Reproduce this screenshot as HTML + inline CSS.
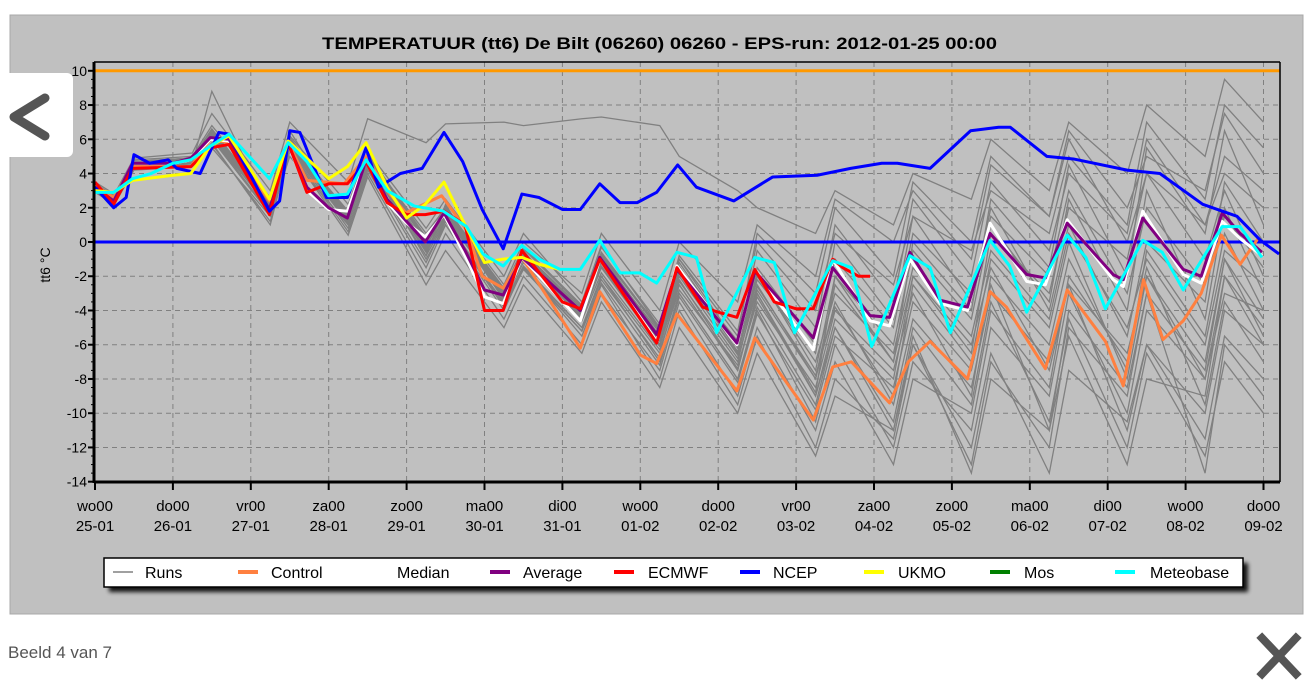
<!DOCTYPE html>
<html><head><meta charset="utf-8"><style>
body{margin:0;background:#fff;width:1316px;height:698px;overflow:hidden;font-family:"Liberation Sans",sans-serif}
svg{display:block}
</style></head><body>
<svg id="chart" width="1316" height="698" viewBox="0 0 1316 698" xmlns="http://www.w3.org/2000/svg">
<defs><filter id="sh" x="-5%" y="-50%" width="110%" height="200%"><feGaussianBlur stdDeviation="2"/></filter></defs>
<rect x="10" y="15" width="1293" height="599" fill="#c0c0c0" stroke="#a8a8a8"/>
<text x="322" y="49" textLength="675" lengthAdjust="spacingAndGlyphs" font-size="17" font-weight="bold" fill="#000">TEMPERATUUR (tt6) De Bilt (06260) 06260 - EPS-run: 2012-01-25 00:00</text>
<g id="grid"></g>
<g id="runs"></g>
<g id="series"></g>
<g id="axes"></g>
<text x="50" y="265" transform="rotate(-90 50 265)" text-anchor="middle" font-size="14" fill="#000">tt6 °C</text>
<g>
<rect x="109" y="563" width="1139" height="29" fill="#000" filter="url(#sh)" opacity="0.9"/>
<rect x="104" y="558" width="1139" height="29" fill="#fff" stroke="#000" stroke-width="1.5"/>
<g font-size="16" fill="#000">
<line x1="113" y1="572" x2="133" y2="572" stroke="#a0a0a0" stroke-width="2"/><text x="145" y="578">Runs</text>
<line x1="238" y1="572" x2="258" y2="572" stroke="#ff8040" stroke-width="4"/><text x="271" y="578">Control</text>
<line x1="364" y1="572" x2="384" y2="572" stroke="#fff" stroke-width="4"/><text x="397" y="578">Median</text>
<line x1="490" y1="572" x2="510" y2="572" stroke="#800080" stroke-width="4"/><text x="523" y="578">Average</text>
<line x1="614" y1="572" x2="634" y2="572" stroke="#ff0000" stroke-width="4"/><text x="648" y="578">ECMWF</text>
<line x1="740" y1="572" x2="760" y2="572" stroke="#0000ff" stroke-width="4"/><text x="773" y="578">NCEP</text>
<line x1="864" y1="572" x2="884" y2="572" stroke="#ffff00" stroke-width="4"/><text x="898" y="578">UKMO</text>
<line x1="990" y1="572" x2="1010" y2="572" stroke="#008000" stroke-width="4"/><text x="1024" y="578">Mos</text>
<line x1="1115" y1="572" x2="1135" y2="572" stroke="#00ffff" stroke-width="4"/><text x="1150" y="578">Meteobase</text>
</g></g>
<g>
<rect x="0" y="73" width="73" height="84" rx="6" fill="#fff"/>
<polyline points="45,98 14,117 45,136" fill="none" stroke="#555" stroke-width="9" stroke-linecap="round" stroke-linejoin="round"/>
</g>
<text x="8" y="658" font-size="17" fill="#555">Beeld 4 van 7</text>
<g stroke="#555" stroke-width="8" stroke-linecap="square">
<line x1="1262" y1="638" x2="1296" y2="674"/><line x1="1296" y1="638" x2="1262" y2="674"/>
</g>
</svg>
<script>
const dayLabels=["wo00","do00","vr00","za00","zo00","ma00","di00","wo00","do00","vr00","za00","zo00","ma00","di00","wo00","do00"];
const dateLabels=["25-01","26-01","27-01","28-01","29-01","30-01","31-01","01-02","02-02","03-02","04-02","05-02","06-02","07-02","08-02","09-02"];
const yTicks=[10,8,6,4,2,0,-2,-4,-6,-8,-10,-12,-14];
const runDays=[0,0.25,0.5,1.25,1.5,2.25,2.5,3.25,3.5,4.25,4.5,5.25,5.5,6.25,6.5,7.25,7.5,8.25,8.5,9.25,9.5,10.25,10.5,11.25,11.5,12.25,12.5,13.25,13.5,14.25,14.5,15];
const runs=[
[3.5,2.8,4.9,5.2,7.5,3.0,7.0,3.5,7.2,5.8,6.9,7.0,6.8,7.2,7.3,6.8,5.0,3.0,2.0,0.5,3.0,1.0,4.0,2.5,6.0,3.0,7.0,4.0,8.0,5.0,9.5,7.0],
[3.0,2.4,4.5,4.6,8.8,1.8,6.5,1.0,5.0,-1.0,1.0,-3.5,-1.5,-5.0,-2.0,-7.0,-3.0,-8.0,-4.0,-10.5,-6.0,-12.0,-7.0,-11.0,-5.0,-9.0,-3.0,-10.0,-4.0,-8.0,-2.0,-5.0],
[3.3,2.6,4.7,4.9,6.5,2.2,5.9,1.2,4.5,-0.5,1.5,-3.0,-0.5,-4.5,-1.0,-6.0,-2.5,-7.5,-3.0,-9.0,-4.5,-8.0,-2.0,-6.5,0.5,-3.0,2.0,-1.0,4.0,1.0,5.0,3.0],
[3.0,2.2,4.3,4.5,5.8,1.0,5.5,0.8,4.2,-1.5,1.0,-4.0,-1.5,-5.5,-2.5,-8.0,-4.0,-9.5,-5.5,-12.0,-8.0,-11.5,-6.0,-13.0,-7.0,-12.0,-5.0,-9.0,-3.0,-13.5,-6.0,-9.0],
[3.2,2.5,4.6,4.8,6.2,2.4,5.8,1.8,5.0,0.5,2.0,-2.5,0.0,-3.0,0.5,-4.0,0.0,-3.5,1.0,-2.0,2.5,0.0,3.0,-1.0,4.5,1.5,6.5,2.0,5.0,3.0,7.5,4.0],
[3.1,2.3,4.4,4.5,5.5,1.5,5.0,1.0,4.6,-0.8,2.2,-3.3,-1.0,-4.2,-0.8,-5.5,-1.8,-6.5,-2.0,-7.0,-3.0,-6.5,-1.5,-5.5,-0.5,-4.5,0.5,-5.0,-1.0,-6.0,-0.5,-2.5],
[3.4,2.7,4.8,5.0,6.8,2.6,6.2,2.2,5.3,0.8,2.5,-2.0,0.5,-3.5,-0.2,-5.0,-1.0,-6.0,-0.5,-5.0,1.0,-3.5,2.5,-2.0,3.5,-0.5,4.0,0.5,6.0,1.0,4.0,2.0],
[3.0,2.4,4.4,4.6,6.0,1.6,5.4,0.6,4.0,-2.0,0.5,-4.5,-2.0,-6.0,-3.0,-7.5,-3.5,-9.0,-5.0,-11.0,-7.0,-13.0,-8.0,-10.0,-4.0,-8.5,-2.0,-7.0,-1.5,-9.5,-3.5,-7.0],
[3.2,2.5,4.5,4.7,6.4,2.0,5.6,1.4,4.7,-0.3,1.8,-3.2,-0.8,-4.3,-1.2,-5.8,-2.0,-6.8,-2.8,-8.0,-3.5,-9.5,-4.5,-8.5,-3.0,-7.0,-2.5,-11.0,-6.0,-10.0,-4.0,-6.0],
[3.3,2.6,4.7,4.9,6.6,2.3,6.0,1.7,5.1,0.3,2.1,-2.8,-0.4,-3.8,-0.3,-4.8,-0.8,-5.2,0.0,-4.0,0.5,-2.5,1.5,-0.5,3.0,0.5,5.0,1.0,7.0,2.5,8.0,5.5],
[2.9,2.2,4.2,4.4,5.7,1.2,5.3,0.4,3.8,-2.5,-0.5,-5.0,-2.5,-6.5,-3.5,-8.5,-5.0,-10.0,-6.5,-12.5,-9.0,-11.0,-6.0,-12.0,-6.5,-13.5,-7.5,-10.5,-6.0,-11.5,-5.5,-8.0],
[3.2,2.5,4.6,4.8,6.1,2.1,5.7,1.5,4.8,0.1,1.6,-3.0,-0.7,-4.0,-1.0,-5.3,-1.5,-5.8,-1.5,-6.0,-1.0,-5.0,0.5,-3.0,1.5,-2.0,3.0,-3.0,2.0,-2.5,1.5,-1.5],
[3.1,2.4,4.5,4.7,6.3,1.9,5.6,1.3,4.9,-0.2,1.7,-3.4,-1.2,-4.6,-1.8,-6.3,-2.8,-7.2,-3.5,-8.5,-4.0,-7.5,-3.0,-9.0,-2.0,-6.0,-1.0,-7.5,-0.5,-5.5,0.5,-4.0],
[3.3,2.6,4.6,4.9,6.4,2.2,5.9,1.6,5.0,0.2,1.9,-2.7,-0.3,-3.7,-0.6,-5.1,-1.2,-6.2,-1.8,-7.5,-2.0,-6.0,-0.5,-4.5,1.0,-3.5,2.5,-4.0,3.0,-4.5,2.0,-3.0],
[3.2,2.4,4.6,4.7,6.2,2.0,5.7,1.3,4.6,-0.6,1.3,-3.6,-1.4,-5.0,-2.2,-6.8,-3.0,-8.0,-3.8,-9.5,-5.0,-10.5,-5.0,-9.5,-3.5,-10.5,-4.5,-12.0,-6.5,-12.5,-7.0,-10.0],
[3.1,2.5,4.5,4.8,6.0,2.1,5.5,1.4,4.4,-0.4,1.4,-3.1,-0.9,-4.4,-1.5,-6.1,-2.3,-7.0,-2.5,-8.0,-2.5,-7.0,0.0,-4.0,2.5,-1.5,4.5,-2.0,5.5,0.5,6.5,1.0],
[3.3,2.6,4.7,4.8,6.6,2.2,6.1,1.6,5.2,0.2,2.0,-2.9,-0.6,-3.9,-0.8,-5.0,-1.4,-6.4,-2.6,-7.8,-3.8,-9.0,-2.5,-7.0,-1.0,-5.0,0.0,-8.0,-2.0,-7.0,-1.0,-4.5],
[3.0,2.3,4.4,4.6,6.1,1.7,5.5,1.1,4.3,-1.2,1.2,-3.8,-1.6,-5.2,-2.4,-7.2,-3.2,-8.2,-4.2,-9.8,-5.5,-8.5,-3.5,-7.5,-2.5,-11.0,-5.5,-13.0,-8.0,-9.0,-2.0,-6.0],
[3.2,2.5,4.6,4.8,6.3,2.0,5.8,1.5,4.9,0.0,1.8,-3.0,-0.8,-4.1,-1.1,-5.6,-1.7,-6.6,-2.2,-6.5,0.0,-4.5,1.5,-3.5,2.0,-4.0,1.0,-5.5,0.0,-3.5,3.5,0.0],
[3.1,2.4,4.5,4.7,6.2,1.9,5.7,1.3,4.7,-0.5,1.6,-3.3,-1.0,-4.5,-1.4,-6.0,-2.2,-7.4,-3.2,-9.0,-5.0,-11.0,-5.5,-13.5,-8.0,-11.0,-4.0,-8.5,-3.0,-7.5,-1.0,-5.5],
[3.3,2.5,4.7,4.9,6.5,2.1,5.8,1.5,4.9,0.1,1.9,-2.9,-0.6,-3.9,-0.7,-5.2,-1.0,-5.5,0.5,-3.0,2.0,-2.0,3.5,0.0,5.0,1.5,6.0,0.0,4.0,-1.0,3.0,-2.0],
[3.2,2.4,4.6,4.7,6.3,1.9,5.6,1.2,4.6,-0.8,1.2,-3.7,-1.5,-5.2,-2.0,-6.5,-2.5,-7.5,-3.0,-8.8,-2.0,-7.0,-2.0,-6.0,-1.5,-7.5,-2.5,-6.5,-2.0,-8.0,-3.0,-4.0]
];
const controlDays=[0,0.24,0.48,1.23,1.48,1.72,2.24,2.48,2.72,3.2,3.48,3.75,3.99,4.45,4.77,4.97,5.24,5.48,6.23,6.48,7.0,7.21,7.47,8.24,8.47,9.22,9.47,9.71,10.2,10.44,10.72,11.2,11.49,11.7,12.2,12.48,12.97,13.2,13.46,13.71,13.97,14.2,14.46,14.7,14.93];
const controlVals=[3.3,2.6,4.4,4.4,6.0,5.8,2.4,5.8,3.6,3.4,5.0,3.0,1.7,2.7,0.7,-2.0,-2.7,-0.9,-6.2,-2.9,-6.6,-7.1,-4.2,-8.7,-5.6,-10.4,-7.3,-7.0,-9.4,-7.0,-5.8,-8.0,-2.9,-3.8,-7.4,-2.8,-5.8,-8.4,-2.2,-5.7,-4.6,-3.0,0.4,-1.3,0.2];
const avgDays=[0,0.24,0.48,1.0,1.23,1.48,1.72,2.24,2.48,2.72,3.0,3.24,3.48,3.75,4.0,4.24,4.48,4.75,5.0,5.24,5.48,6.23,6.48,7.21,7.47,8.24,8.47,9.22,9.47,9.95,10.2,10.46,10.85,11.2,11.49,11.96,12.2,12.48,13.07,13.2,13.45,13.97,14.2,14.47,14.7,14.98];
const avgVals=[3.2,2.4,4.6,4.6,4.9,6.1,6.0,1.9,5.7,3.2,2.0,1.4,4.8,2.5,1.2,0.0,1.7,-0.5,-2.8,-3.1,-0.9,-4.0,-0.9,-5.4,-1.6,-5.9,-1.7,-5.6,-1.5,-4.3,-4.4,-0.6,-3.4,-3.8,0.5,-1.9,-2.1,1.1,-1.9,-2.2,1.4,-1.6,-2.0,1.7,0.5,-0.6];
const medVals=[3.1,2.4,4.6,4.6,4.8,6.0,5.9,1.8,5.7,3.0,1.9,1.8,4.8,2.3,1.1,0.3,1.6,-0.8,-3.2,-3.6,-0.9,-4.6,-1.0,-5.8,-1.4,-6.0,-1.6,-6.3,-1.0,-4.6,-4.9,-1.0,-3.6,-4.0,1.1,-2.3,-2.5,1.3,-2.2,-2.6,1.8,-1.9,-2.4,1.2,0.2,-0.8];
const ecmwfDays=[0,0.24,0.48,1.23,1.48,1.72,2.24,2.48,2.72,3.0,3.24,3.48,3.75,4.0,4.24,4.48,4.75,5.0,5.24,5.48,6.0,6.23,6.48,7.0,7.21,7.47,7.8,8.0,8.24,8.47,8.72,9.0,9.22,9.47,9.6,9.8,9.95];
const ecmwfVals=[3.5,2.2,4.3,4.4,5.5,5.7,1.6,5.8,2.9,3.4,3.4,4.7,2.3,1.6,1.6,1.8,1.0,-4.0,-4.0,-0.5,-3.5,-3.9,-1.0,-4.5,-5.9,-1.5,-3.8,-4.1,-4.4,-1.6,-3.5,-3.9,-3.9,-1.0,-1.5,-2.0,-2.0];
const ncepDays=[0,0.24,0.4,0.5,0.7,0.94,1.05,1.35,1.59,1.72,2.24,2.37,2.5,2.63,2.97,3.24,3.48,3.64,3.92,4.2,4.48,4.72,4.97,5.24,5.48,5.7,6.0,6.23,6.48,6.74,6.96,7.21,7.48,7.72,8.2,8.7,9.27,9.7,10.1,10.3,10.72,11.24,11.6,11.75,12.22,12.56,13.25,13.67,14.22,14.66,14.96,15.2];
const ncepVals=[3.2,2.0,2.6,5.1,4.6,4.8,4.3,4.0,6.4,6.3,1.8,2.4,6.5,6.4,2.6,2.6,5.5,3.2,4.0,4.3,6.4,4.7,1.9,-0.4,2.8,2.6,1.9,1.9,3.4,2.3,2.3,2.9,4.5,3.2,2.4,3.8,3.9,4.3,4.6,4.6,4.3,6.5,6.7,6.7,5.0,4.85,4.2,4.0,2.2,1.5,0.1,-0.7];
const ukmoDays=[0,0.24,0.48,1.0,1.23,1.48,1.72,2.24,2.48,3.0,3.24,3.48,3.75,4.0,4.24,4.48,4.75,5.0,5.24,5.48,5.7,5.97];
const ukmoVals=[3.0,2.9,3.6,3.9,4.0,5.6,6.2,2.5,5.9,3.7,4.4,5.8,3.2,1.4,2.2,3.5,1.0,-1.2,-1.0,-0.9,-1.3,-1.6];
const meteoDays=[0,0.24,0.48,0.72,1.0,1.23,1.48,1.72,2.24,2.48,2.72,3.0,3.24,3.48,3.75,4.1,4.47,4.77,4.98,5.24,5.48,5.7,5.97,6.23,6.48,6.74,6.99,7.21,7.47,7.72,7.98,8.47,8.72,8.98,9.47,9.71,9.97,10.46,10.72,10.98,11.49,11.74,11.96,12.48,12.72,12.97,13.45,13.7,13.97,14.47,14.7,14.98];
const meteoVals=[2.9,2.9,3.7,4.0,4.6,4.8,5.6,6.3,3.7,5.8,4.7,2.7,2.8,4.8,3.0,2.1,1.8,0.9,-0.7,-1.4,-0.2,-1.0,-1.6,-1.6,0.1,-1.8,-1.8,-2.4,-0.6,-0.9,-5.3,-0.9,-1.2,-5.3,-1.1,-1.5,-6.1,-0.8,-1.5,-5.3,0.1,-1.4,-4.1,0.4,-0.9,-3.9,0.1,-0.6,-2.8,0.9,0.9,-0.9];

const L=94,R=1280,T=62,B=482,X0=95,DX=77.9;
const xs=d=>X0+d*DX;
const ys=v=>242-v*17.12;
const NS="http://www.w3.org/2000/svg";
function mk(tag,attrs,parent){const e=document.createElementNS(NS,tag);for(const k in attrs)e.setAttribute(k,attrs[k]);parent.appendChild(e);return e;}
const grid=document.getElementById('grid'),axes=document.getElementById('axes');
mk('rect',{x:L,y:T,width:R-L,height:B-T,fill:'#c0c0c0'},grid);
yTicks.forEach(v=>{
  const gl=mk('line',{x1:L,x2:R,y1:ys(v),y2:ys(v),stroke:'#808080','stroke-dasharray':'5,4'},grid);
  
  
  const t=mk('text',{x:87,y:ys(v)+5,'text-anchor':'end','font-size':14,fill:'#000'},axes);
  t.textContent=v;
  
  
  mk('line',{x1:L-6,x2:L,y1:ys(v),y2:ys(v),stroke:'#000','stroke-width':2},axes);
});
for(let v=-14;v<=10;v+=0.5){mk('line',{x1:L-3,x2:L,y1:ys(v),y2:ys(v),stroke:'#000'},axes);}
dayLabels.forEach((lab,i)=>{
  const x=xs(i);
  if(i>0){const gl=mk('line',{x1:x,x2:x,y1:T,y2:B,stroke:'#808080','stroke-dasharray':'5,4'},grid);
  
  }
  mk('line',{x1:x,x2:x,y1:B,y2:B+8,stroke:'#000','stroke-width':2},axes);
  const t=mk('text',{x:x,y:511,'text-anchor':'middle','font-size':15,fill:'#000'},axes);
  t.textContent=lab;
  
  
  const t2=mk('text',{x:x,y:531,'text-anchor':'middle','font-size':15,fill:'#000'},axes);
  t2.textContent=dateLabels[i];
  
  
});
mk('line',{x1:L,x2:L,y1:T,y2:B+1,stroke:'#000','stroke-width':3},axes);
mk('line',{x1:L,x2:R,y1:B,y2:B,stroke:'#000','stroke-width':3},axes);
mk('line',{x1:L,x2:R,y1:T,y2:T,stroke:'#000','stroke-width':1.5},axes);
mk('line',{x1:R,x2:R,y1:T,y2:B,stroke:'#000','stroke-width':1.5},axes);
const rg=document.getElementById('runs');
runs.forEach(r=>{
  const p=mk('polyline',{points:r.map((v,i)=>xs(runDays[i])+','+ys(v)).join(' '),fill:'none',stroke:'#808080','stroke-width':1.3},rg);
  
  
});
const sg=document.getElementById('series');
const ref0=mk('line',{x1:L,x2:R,y1:ys(0),y2:ys(0),stroke:'#0000ff','stroke-width':3},sg);


const ref10=mk('line',{x1:L,x2:R,y1:ys(10),y2:ys(10),stroke:'#ff9900','stroke-width':3},sg);


function line(days,vals,color,name){
  const p=mk('polyline',{points:vals.map((v,i)=>xs(days[i])+','+ys(v)).join(' '),fill:'none',stroke:color,'stroke-width':3,'stroke-linejoin':'round'},sg);
  
  
}
line(controlDays,controlVals,'#ff8040','control-line');
line(avgDays,medVals,'#ffffff','median-line');
line(avgDays,avgVals,'#800080','average-line');
line(ecmwfDays,ecmwfVals,'#ff0000','ecmwf-line');
line(ncepDays,ncepVals,'#0000ff','ncep-line');
line(ukmoDays,ukmoVals,'#ffff00','ukmo-line');
line(meteoDays,meteoVals,'#00ffff','meteobase-line');
</script>
</body></html>
